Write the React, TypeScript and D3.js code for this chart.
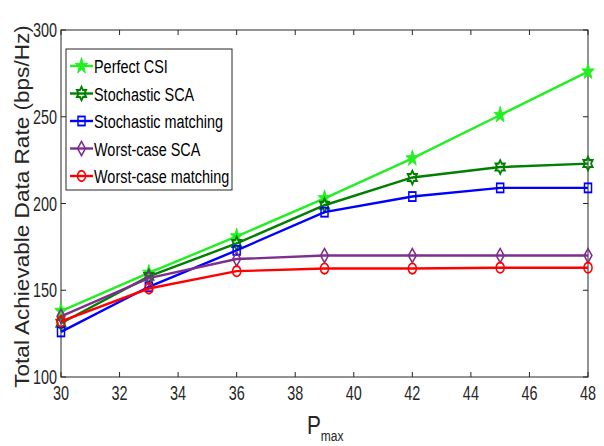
import React from "react";
import * as d3 from "d3";

const xValues = [30, 33, 36, 39, 42, 45, 48];
const perfectCSI = [138, 160, 181, 203, 226, 251, 276];
const stochasticSCA = [131, 158, 177, 199, 215, 221, 223];
const stochasticMatching = [126, 152, 173, 195, 204, 209, 209];
const worstSCA = [135, 157, 168, 170, 170, 170, 170];
const worstMatching = [132, 151, 161, 162.5, 162.5, 163, 163];
const xTicks = [30, 32, 34, 36, 38, 40, 42, 44, 46, 48];
const yTicks = [100, 150, 200, 250, 300];
const seriesNames = ["Perfect CSI", "Stochastic SCA", "Stochastic matching", "Worst-case SCA", "Worst-case matching"];

const W = 604, H = 446;
const L = 61, R = 588, T = 30, B = 377;
const FONT = "'Liberation Sans', Arial, sans-serif";
const SX = 0.74;
const MSX = 0.78;

const starPath = (r: number, points: number, inner: number) => {
  const pts: string[] = [];
  for (let i = 0; i < points * 2; i++) {
    const rad = i % 2 === 0 ? r : r * inner;
    const a = -Math.PI / 2 + (i * Math.PI) / points;
    pts.push(`${(rad * Math.cos(a)).toFixed(2)},${(rad * Math.sin(a)).toFixed(2)}`);
  }
  return "M" + pts.join("L") + "Z";
};

type Series = { name: string; values: number[]; color: string; marker: string };
const series: Series[] = [
  { name: seriesNames[0], values: perfectCSI, color: "#22ee22", marker: "pentagram" },
  { name: seriesNames[1], values: stochasticSCA, color: "#007f00", marker: "hexagram" },
  { name: seriesNames[2], values: stochasticMatching, color: "#0000ff", marker: "square" },
  { name: seriesNames[3], values: worstSCA, color: "#7e2f8e", marker: "diamond" },
  { name: seriesNames[4], values: worstMatching, color: "#ff0000", marker: "circle" },
];

const MarkerShape = ({ type, color }: { type: string; color: string }) => {
  const common = { stroke: color, strokeWidth: 1.9, fill: "none" };
  if (type === "pentagram") return <path d={starPath(8.5, 5, 0.4)} fill={color} stroke={color} strokeWidth={1} />;
  if (type === "hexagram") return <path d={starPath(6.8, 6, 0.58)} {...common} strokeWidth={2.2} />;
  if (type === "square") return <rect x={-4.5} y={-4.5} width={9} height={9} {...common} />;
  if (type === "diamond") return <path d={`M0,-7L5,0L0,7L-5,0Z`} {...common} />;
  return <circle cx={0} cy={0} r={5.2} {...common} />;
};

const Marker = ({ type, color, x, y }: { type: string; color: string; x: number; y: number }) => (
  <g transform={`translate(${x},${y}) scale(${MSX},1)`}>
    <MarkerShape type={type} color={color} />
  </g>
);

const CText = ({ x, y, size, anchor, fill, children, sx = SX }: any) => (
  <text transform={`translate(${x},${y}) scale(${sx},1)`} fontSize={size} textAnchor={anchor || "start"} fill={fill}>
    {children}
  </text>
);

export default function App() {
  const x = d3.scaleLinear().domain([30, 48]).range([L, R]);
  const y = d3.scaleLinear().domain([100, 300]).range([B, T]);
  const line = d3
    .line<number>()
    .x((_, i) => x(xValues[i]))
    .y((d) => y(d));
  const axisColor = "#262626";
  const legX = 66, legY = 49, legW = 166, legH = 141, rowH = 27.5;
  return (
    <svg width={W} height={H} style={{ position: "absolute", left: 0, top: 0, background: "#fff" }} fontFamily={FONT}>
      <rect x={0} y={0} width={W} height={H} fill="#fff" />
      {xTicks.map((t) => (
        <g key={"x" + t}>
          <line x1={x(t)} x2={x(t)} y1={B} y2={B - 5} stroke={axisColor} />
          <line x1={x(t)} x2={x(t)} y1={T} y2={T + 5} stroke={axisColor} />
          <CText x={x(t)} y={B + 23} size={19.5} anchor="middle" fill={axisColor}>
            {t}
          </CText>
        </g>
      ))}
      {yTicks.map((t) => (
        <g key={"y" + t}>
          <line x1={L} x2={L + 5} y1={y(t)} y2={y(t)} stroke={axisColor} />
          <line x1={R} x2={R - 5} y1={y(t)} y2={y(t)} stroke={axisColor} />
          <CText x={L - 4} y={y(t) + 7} size={19.5} anchor="end" fill={axisColor}>
            {t}
          </CText>
        </g>
      ))}
      <rect x={L} y={T} width={R - L} height={B - T} fill="none" stroke={axisColor} strokeWidth={1} />
      {series.map((s) => (
        <g key={s.name}>
          <path d={line(s.values) || ""} fill="none" stroke={s.color} strokeWidth={2.4} />
          {s.values.map((v, i) => (
            <Marker key={i} type={s.marker} color={s.color} x={x(xValues[i])} y={y(v)} />
          ))}
        </g>
      ))}
      <rect x={legX} y={legY} width={legW} height={legH} fill="#fff" stroke={axisColor} strokeWidth={1} />
      {series.map((s, i) => {
        const cy = legY + 17 + i * rowH;
        return (
          <g key={"leg" + s.name}>
            <line x1={legX + 4} x2={legX + 27} y1={cy} y2={cy} stroke={s.color} strokeWidth={2.4} />
            <Marker type={s.marker} color={s.color} x={legX + 15.5} y={cy} />
            <CText x={legX + 28} y={cy + 7} size={19} fill="#000" sx={0.76}>
              {s.name}
            </CText>
          </g>
        );
      })}
      <text
        transform={`translate(29,${(T + B) / 2 + 3}) rotate(-90) scale(1.075,1)`}
        textAnchor="middle"
        fontSize={21}
        fill={axisColor}
      >
        Total Achievable Data Rate (bps/Hz)
      </text>
      <text transform={`translate(307,434) scale(0.8,1)`} fontSize={26} fill={axisColor}>
        P
        <tspan fontSize={15} dy={7}>
          max
        </tspan>
      </text>
    </svg>
  );
}
